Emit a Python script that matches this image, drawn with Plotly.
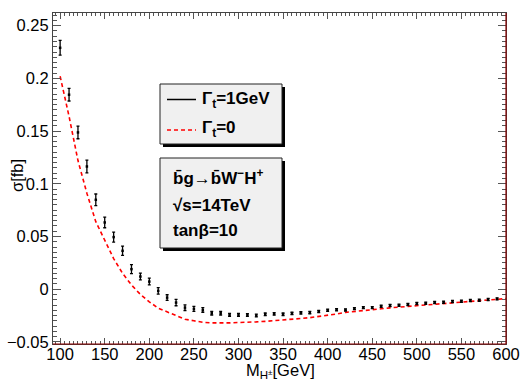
import plotly.graph_objects as go

# charged Higgs mass [GeV]
mass = list(range(100, 600, 10))
mass_line = list(range(100, 610, 10))

# sigma [fb] with Gamma_t = 1 GeV (points with errors)
sigma_g1 = [0.229, 0.1845, 0.1487, 0.1164, 0.0848, 0.0633, 0.0494, 0.0364, 0.019, 0.012,
            0.0072, -0.0016, -0.008, -0.0127, -0.0175, -0.0187, -0.0197, -0.0228, -0.0228, -0.0244,
            -0.0244, -0.0244, -0.025, -0.0238, -0.0235, -0.0238, -0.023, -0.0225, -0.0222, -0.0212,
            -0.020, -0.0195, -0.0197, -0.0184, -0.0175, -0.0175, -0.0162, -0.0155, -0.0152, -0.0146,
            -0.0136, -0.0133, -0.0127, -0.0124, -0.0117, -0.0114, -0.0108, -0.0105, -0.0098, -0.0092]
err_g1 = [0.007, 0.006, 0.006, 0.006, 0.0055, 0.005, 0.0047, 0.0044, 0.0043, 0.0032,
          0.0032, 0.003, 0.0027, 0.003, 0.0027, 0.0024, 0.0022, 0.0017, 0.0017, 0.0014,
          0.0014, 0.0013, 0.0013, 0.0012, 0.0012, 0.0012, 0.0011, 0.0011, 0.0011, 0.001,
          0.001, 0.001, 0.001, 0.001, 0.001, 0.001, 0.001, 0.001, 0.001, 0.001,
          0.001, 0.001, 0.001, 0.001, 0.001, 0.001, 0.001, 0.001, 0.001, 0.001]

# sigma [fb] with Gamma_t = 0 (dashed)
sigma_g0 = [0.202, 0.164, 0.122, 0.091, 0.064, 0.046, 0.029, 0.015, 0.004, -0.005,
            -0.012, -0.018, -0.0213, -0.025, -0.0285, -0.030, -0.0314, -0.032, -0.0323, -0.032,
            -0.0316, -0.031, -0.031, -0.0305, -0.030, -0.0295, -0.0287, -0.0278, -0.027, -0.026,
            -0.0245, -0.0235, -0.022, -0.021, -0.0203, -0.0194, -0.0186, -0.0177, -0.017, -0.0162,
            -0.0153, -0.0145, -0.0138, -0.0131, -0.0124, -0.0117, -0.0111, -0.0105, -0.0099, -0.0093,
            -0.0089]

FONT = "Liberation Sans, Arial, sans-serif"

# plot frame in pixels: x 53..506, y 13..344
def px(x):
    return (x - 53) / 453

def py(y):
    return (344 - y) / 331

fig = go.Figure()
fig.add_trace(go.Scatter(x=mass_line, y=sigma_g0, mode="lines",
                         line=dict(color="#ff0000", width=1.6, dash="4px,3px")))
fig.add_trace(go.Scatter(x=mass, y=sigma_g1, mode="markers",
                         marker=dict(color="black", size=2.5, symbol="square"),
                         error_y=dict(type="data", array=err_g1, color="black",
                                      thickness=1.3, width=1.5)))

axis_common = dict(ticks="inside", showline=True, linecolor="#444", linewidth=1,
                   mirror="ticks", tickcolor="#555", tickwidth=1, showgrid=False,
                   zeroline=False, automargin=False,
                   tickfont=dict(family=FONT, size=16.5, color="black"))

fig.update_xaxes(range=[92, 600], tick0=100, dtick=50, ticklen=6, ticklabelstandoff=-5,
                 minor=dict(dtick=5, ticklen=3, tickcolor="#555", ticks="inside"),
                 **axis_common)
fig.update_yaxes(range=[-0.052, 0.262], tick0=0, dtick=0.05, ticklen=8,
                 minor=dict(dtick=0.005, ticklen=4, tickcolor="#555", ticks="inside"),
                 **axis_common)

shapes = []
# dark red frame edges (bottom, right)
shapes.append(dict(type="line", xref="paper", yref="paper", x0=0, x1=1, y0=0, y1=0,
                   line=dict(color="#8b0000", width=1.2)))
shapes.append(dict(type="line", xref="paper", yref="paper", x0=1, x1=1, y0=0, y1=1,
                   line=dict(color="#8b0000", width=1.2)))

# legend boxes with shadows
for (x0, y0, x1, y1) in [(160, 84, 282, 144), (160, 158, 282, 248)]:
    shapes.append(dict(type="rect", xref="paper", yref="paper",
                       x0=px(x0 + 3), x1=px(x1 + 3), y0=py(y1 + 3), y1=py(y0 + 3),
                       fillcolor="black", line=dict(width=0)))
    shapes.append(dict(type="rect", xref="paper", yref="paper",
                       x0=px(x0), x1=px(x1), y0=py(y1), y1=py(y0),
                       fillcolor="#f0f0f0", line=dict(color="#222", width=1)))
shapes.append(dict(type="line", xref="paper", yref="paper", x0=px(167), x1=px(196),
                   y0=py(99.5), y1=py(99.5), line=dict(color="black", width=1.5)))
shapes.append(dict(type="line", xref="paper", yref="paper", x0=px(167), x1=px(196),
                   y0=py(130), y1=py(130), line=dict(color="#ff0000", width=1.6, dash="4px,3px")))

annotations = []
def txt(x, y, s, size=17, **kw):
    annotations.append(dict(x=px(x), y=py(y), xref="paper", yref="paper", text=s,
                            showarrow=False, xanchor="left", yanchor="middle",
                            font=dict(family=FONT, size=size, color="black"), **kw))

txt(200, 100, "<b>Γ<sub>t</sub>=1GeV</b>")
txt(200, 129, "<b>Γ<sub>t</sub>=0</b>")
txt(171, 177, "<b>b\u0304g→b\u0304W<sup>−</sup>H<sup>+</sup></b>")
txt(171, 205, "<b>√s=14TeV</b>")
txt(171, 230, "<b>tanβ=10</b>")

# axis titles
annotations.append(dict(x=px(280), y=py(371), xref="paper", yref="paper",
                        text="M<sub>H<sup>±</sup></sub>[GeV]", showarrow=False,
                        xanchor="center", yanchor="middle",
                        font=dict(family=FONT, size=16.5, color="black")))
annotations.append(dict(x=px(17), y=py(176), xref="paper", yref="paper",
                        text="σ[fb]", showarrow=False, textangle=-90,
                        xanchor="center", yanchor="middle",
                        font=dict(family=FONT, size=16.5, color="black")))

fig.update_layout(width=523, height=392, showlegend=False,
                  margin=dict(l=53, r=17, t=13, b=48),
                  plot_bgcolor="white", paper_bgcolor="white",
                  shapes=shapes, annotations=annotations)

fig.write_html("out.html", config={"displayModeBar": False},
               post_script="document.body.style.margin='0';")
